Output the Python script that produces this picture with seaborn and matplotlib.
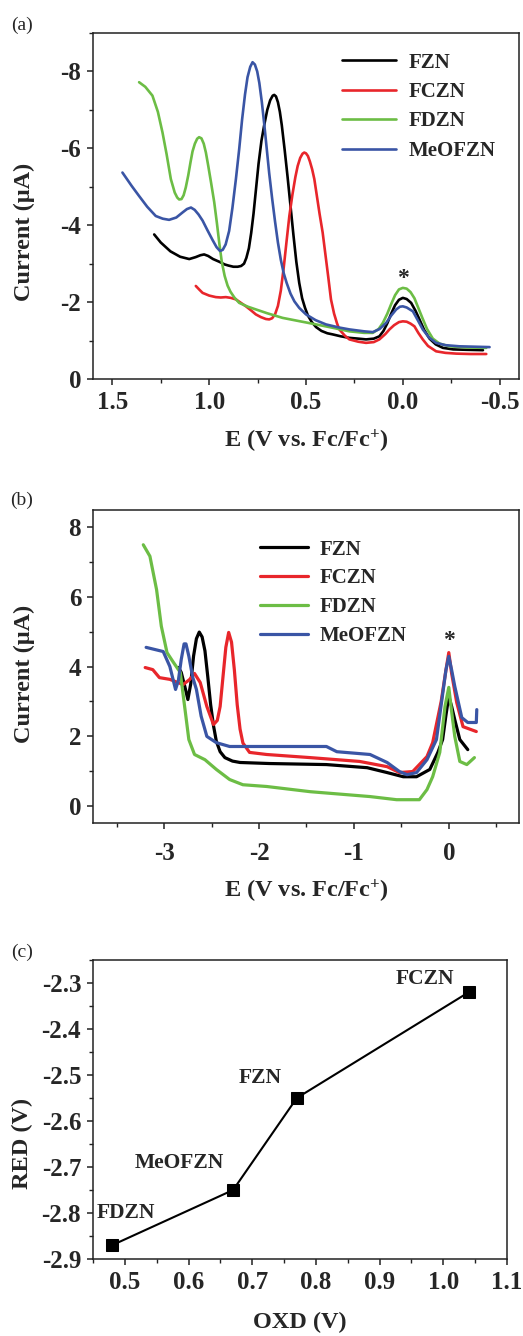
import numpy as np
import pandas as pd
import matplotlib
matplotlib.use("Agg")
import matplotlib.pyplot as plt
import seaborn as sns
from matplotlib.ticker import MultipleLocator, FormatStrFormatter

compounds = ["FZN", "FCZN", "FDZN", "MeOFZN"]
colors = ["#000000", "#e8262b", "#6cbd45", "#3a55a5"]

# ---------- panel (a): oxidation DPV ----------
a_fzn_E = [1.284, 1.25, 1.20, 1.15, 1.103, 1.07, 1.045, 1.026, 1.005, 0.98, 0.948, 0.92, 0.90, 0.875, 0.853, 0.835,
           0.82, 0.808, 0.795, 0.783, 0.771, 0.759, 0.745, 0.73, 0.716, 0.70, 0.685, 0.672, 0.664, 0.655, 0.645,
           0.635, 0.625, 0.61, 0.595, 0.58, 0.565, 0.55, 0.535, 0.52, 0.505, 0.49, 0.47, 0.448, 0.42, 0.39, 0.362,
           0.32, 0.276, 0.23, 0.19, 0.15, 0.121, 0.10, 0.08, 0.06, 0.04, 0.02, 0.0, -0.02, -0.043, -0.065, -0.086,
           -0.11, -0.138, -0.17, -0.207, -0.26, -0.328, -0.414]
a_fzn_I = [-3.76, -3.55, -3.32, -3.18, -3.12, -3.17, -3.22, -3.24, -3.2, -3.12, -3.05, -2.98, -2.95, -2.92, -2.92,
           -2.94, -3.0, -3.15, -3.4, -3.8, -4.3, -4.9, -5.6, -6.2, -6.6, -7.0, -7.25, -7.37, -7.39, -7.35, -7.2,
           -6.95, -6.6, -5.95, -5.25, -4.5, -3.75, -3.05, -2.5, -2.1, -1.85, -1.65, -1.48, -1.35, -1.25, -1.19,
           -1.16, -1.11, -1.07, -1.05, -1.03, -1.05, -1.11, -1.25, -1.45, -1.7, -1.92, -2.06, -2.11, -2.08, -1.98,
           -1.78, -1.55, -1.28, -1.05, -0.9, -0.81, -0.77, -0.76, -0.75]
a_fczn_E = [1.069, 1.05, 1.034, 1.0, 0.966, 0.94, 0.914, 0.888, 0.862, 0.836, 0.81, 0.785, 0.759, 0.733, 0.707,
            0.69, 0.675, 0.66, 0.645, 0.63, 0.615, 0.60, 0.586, 0.57, 0.555, 0.543, 0.53, 0.518, 0.509, 0.50, 0.49,
            0.48, 0.468, 0.457, 0.445, 0.43, 0.414, 0.40, 0.385, 0.371, 0.355, 0.34, 0.328, 0.30, 0.276, 0.23,
            0.19, 0.15, 0.121, 0.09, 0.069, 0.045, 0.02, 0.0, -0.02, -0.04, -0.06, -0.08, -0.103, -0.13, -0.172,
            -0.22, -0.276, -0.35, -0.431]
a_fczn_I = [-2.42, -2.32, -2.24, -2.17, -2.13, -2.12, -2.13, -2.11, -2.07, -1.98, -1.89, -1.79, -1.68, -1.61,
            -1.56, -1.55, -1.58, -1.68, -1.9, -2.3, -2.9, -3.6, -4.24, -4.8, -5.25, -5.54, -5.75, -5.86, -5.89,
            -5.87, -5.8, -5.66, -5.45, -5.2, -4.8, -4.3, -3.81, -3.25, -2.65, -2.07, -1.7, -1.45, -1.29, -1.13,
            -1.03, -0.97, -0.94, -0.96, -1.03, -1.17, -1.29, -1.4, -1.48, -1.50, -1.49, -1.44, -1.37, -1.2, -1.03,
            -0.86, -0.72, -0.68, -0.66, -0.65, -0.65]
a_fdzn_E = [1.362, 1.33, 1.293, 1.265, 1.241, 1.22, 1.198, 1.178, 1.165, 1.155, 1.143, 1.132, 1.121, 1.108, 1.096,
            1.086, 1.074, 1.062, 1.052, 1.04, 1.028, 1.017, 1.005, 0.99, 0.974, 0.96, 0.947, 0.935, 0.92, 0.905,
            0.89, 0.87, 0.845, 0.80, 0.759, 0.70, 0.621, 0.53, 0.448, 0.36, 0.276, 0.20, 0.155, 0.125, 0.103, 0.08,
            0.06, 0.04, 0.02, 0.0, -0.02, -0.04, -0.06, -0.08, -0.10, -0.125, -0.155, -0.19, -0.241, -0.33, -0.431]
a_fdzn_I = [-7.72, -7.6, -7.37, -6.95, -6.41, -5.85, -5.2, -4.85, -4.72, -4.67, -4.68, -4.78, -4.98, -5.3, -5.65,
            -5.92, -6.12, -6.25, -6.29, -6.26, -6.12, -5.89, -5.55, -5.1, -4.6, -4.05, -3.5, -3.05, -2.68, -2.43,
            -2.27, -2.12, -1.98, -1.88, -1.81, -1.71, -1.59, -1.50, -1.42, -1.33, -1.24, -1.2, -1.2, -1.3, -1.46,
            -1.7, -1.95, -2.18, -2.33, -2.37, -2.35, -2.26, -2.1, -1.85, -1.6, -1.3, -1.05, -0.92, -0.85, -0.82,
            -0.81]
a_meo_E = [1.448, 1.40, 1.362, 1.32, 1.276, 1.24, 1.207, 1.17, 1.138, 1.115, 1.094, 1.075, 1.055, 1.034, 1.01,
           0.983, 0.962, 0.944, 0.93, 0.915, 0.897, 0.88, 0.862, 0.845, 0.83, 0.815, 0.802, 0.788, 0.776, 0.764,
           0.752, 0.741, 0.728, 0.715, 0.702, 0.69, 0.675, 0.66, 0.645, 0.63, 0.615, 0.60, 0.58, 0.56, 0.535, 0.50,
           0.45, 0.397, 0.33, 0.276, 0.20, 0.155, 0.12, 0.086, 0.06, 0.034, 0.015, 0.0, -0.02, -0.052, -0.075,
           -0.103, -0.135, -0.172, -0.22, -0.293, -0.448]
a_meo_I = [-5.37, -5.02, -4.76, -4.48, -4.24, -4.17, -4.14, -4.2, -4.33, -4.42, -4.46, -4.4, -4.28, -4.12, -3.88,
           -3.62, -3.43, -3.33, -3.36, -3.5, -3.85, -4.45, -5.2, -5.98, -6.75, -7.4, -7.85, -8.12, -8.24, -8.18,
           -8.0, -7.7, -7.2, -6.6, -5.95, -5.35, -4.7, -4.1, -3.55, -3.1, -2.75, -2.5, -2.22, -2.02, -1.85, -1.68,
           -1.53, -1.42, -1.34, -1.29, -1.24, -1.22, -1.3, -1.46, -1.65, -1.81, -1.88, -1.89, -1.86, -1.76, -1.55,
           -1.29, -1.08, -0.94, -0.88, -0.85, -0.83]

# ---------- panel (b): reduction DPV ----------
b_fzn_E = [-2.85, -2.82, -2.78, -2.75, -2.72, -2.69, -2.66, -2.63, -2.60, -2.57, -2.54, -2.51, -2.48, -2.45, -2.41,
           -2.36, -2.28, -2.2, -1.89, -1.29, -0.86, -0.65, -0.48, -0.34, -0.2, -0.115, -0.065, -0.03, 0.0, 0.03,
           0.063, 0.116, 0.2]
b_fzn_I = [3.97, 3.83, 3.4, 3.05, 3.5, 4.3, 4.8, 4.99, 4.85, 4.45, 3.7, 2.9, 2.3, 1.85, 1.55,
           1.38, 1.28, 1.24, 1.21, 1.18, 1.09, 0.95, 0.83, 0.83, 1.04, 1.53, 1.9, 2.6, 3.14, 2.85,
           2.47, 1.9, 1.61]
b_fczn_E = [-3.2, -3.12, -3.05, -2.94, -2.80, -2.73, -2.68, -2.62, -2.55, -2.48, -2.44, -2.41, -2.38, -2.35, -2.32,
            -2.29, -2.26, -2.23, -2.2, -2.17, -2.1, -1.92, -1.46, -0.94, -0.65, -0.52, -0.38, -0.23, -0.17, -0.08,
            -0.03, 0.0, 0.03, 0.084, 0.15, 0.29]
b_fczn_I = [3.97, 3.91, 3.68, 3.63, 3.48, 3.63, 3.8, 3.54, 2.85, 2.33, 2.45, 2.85, 3.7, 4.55, 4.98,
            4.7, 3.9, 2.9, 2.2, 1.8, 1.53, 1.47, 1.38, 1.27, 1.12, 0.95, 0.98, 1.41, 1.81, 3.0,
            3.9, 4.4, 3.8, 2.96, 2.27, 2.13]
b_fdzn_E = [-3.22, -3.15, -3.08, -3.03, -2.97, -2.91, -2.83, -2.78, -2.74, -2.68, -2.57, -2.45, -2.31, -2.17, -1.92,
            -1.46, -0.83, -0.55, -0.31, -0.23, -0.17, -0.095, -0.04, 0.0, 0.03, 0.063, 0.116, 0.19, 0.27]
b_fdzn_I = [7.5, 7.17, 6.21, 5.16, 4.4, 4.15, 3.83, 2.76, 1.9, 1.47, 1.32, 1.04, 0.75, 0.60, 0.55,
            0.40, 0.26, 0.17, 0.17, 0.46, 0.83, 1.53, 2.85, 3.4, 2.7, 1.99, 1.27, 1.18, 1.38]
b_meo_E = [-3.19, -3.01, -2.94, -2.88, -2.85, -2.82, -2.79, -2.77, -2.74, -2.70, -2.66, -2.61, -2.55, -2.45, -2.31,
           -1.96, -1.29, -1.18, -0.83, -0.65, -0.52, -0.44, -0.34, -0.23, -0.13, -0.06, -0.03, 0.0, 0.03, 0.063,
           0.137, 0.2, 0.29, 0.295]
b_meo_I = [4.55, 4.43, 4.0, 3.34, 3.6, 4.2, 4.65, 4.65, 4.3, 3.7, 3.34, 2.57, 1.99, 1.81, 1.70,
           1.70, 1.70, 1.55, 1.47, 1.24, 0.98, 0.89, 0.95, 1.32, 1.9, 3.3, 3.9, 4.29, 3.9, 3.43,
           2.53, 2.39, 2.39, 2.76]

# ---------- panel (c): RED vs OXD ----------
c_names = ["FDZN", "MeOFZN", "FZN", "FCZN"]
c_oxd = [0.48, 0.67, 0.77, 1.04]
c_red = [-2.87, -2.75, -2.55, -2.32]
c_label_x = [0.502, 0.586, 0.712, 0.971]
c_label_y = [-2.80, -2.691, -2.507, -2.291]


def long_df(Es, Is):
    frames = []
    for name, E, I in zip(compounds, Es, Is):
        frames.append(pd.DataFrame({"E": E, "I": I, "compound": name}))
    return pd.concat(frames, ignore_index=True)


df_a = long_df([a_fzn_E, a_fczn_E, a_fdzn_E, a_meo_E], [a_fzn_I, a_fczn_I, a_fdzn_I, a_meo_I])
df_b = long_df([b_fzn_E, b_fczn_E, b_fdzn_E, b_meo_E], [b_fzn_I, b_fczn_I, b_fdzn_I, b_meo_I])
df_c = pd.DataFrame({"OXD": c_oxd, "RED": c_red, "name": c_names})

sns.set_theme(style="ticks")
plt.rcParams["font.family"] = ["Liberation Serif", "DejaVu Serif"]
plt.rcParams["font.weight"] = "bold"
plt.rcParams["axes.labelweight"] = "bold"
plt.rcParams["axes.unicode_minus"] = False
plt.rcParams["mathtext.fontset"] = "custom"
plt.rcParams["mathtext.rm"] = "Liberation Serif:bold"
plt.rcParams["mathtext.it"] = "Liberation Serif:bold"
plt.rcParams["mathtext.bf"] = "Liberation Serif:bold"

W, H = 523, 1336
fig = plt.figure(figsize=(W / 100, H / 100), dpi=100)


def axes_px(l, r, t, b):
    return fig.add_axes([l / W, 1 - b / H, (r - l) / W, (b - t) / H])


ax_a = axes_px(93, 519, 33, 379)
ax_b = axes_px(93, 519, 510, 823)
ax_c = axes_px(93, 507, 960, 1259)

palette = dict(zip(compounds, colors))
tick_fs = 18
label_fs = 17.5


def style_axes(ax):
    for s in ax.spines.values():
        s.set_linewidth(1.1)
        s.set_color("#222222")
    ax.tick_params(which="major", direction="out", length=4.5, width=1.1, labelsize=tick_fs, pad=4, color="#222222")
    ax.tick_params(which="minor", direction="out", length=2.8, width=1.0, color="#222222")
    ax.tick_params(top=False, right=False, which="both")
    for lab in ax.get_xticklabels() + ax.get_yticklabels():
        lab.set_fontweight("bold")


# Panel (a)
sns.lineplot(data=df_a, x="E", y="I", hue="compound", palette=palette, estimator=None, sort=False,
             units="compound", linewidth=1.9, legend=False, ax=ax_a)
ax_a.set_xlim(1.6, -0.6)
ax_a.set_ylim(0, -9)
ax_a.xaxis.set_major_locator(MultipleLocator(0.5))
ax_a.xaxis.set_minor_locator(MultipleLocator(0.25))
ax_a.yaxis.set_major_locator(MultipleLocator(2))
ax_a.yaxis.set_minor_locator(MultipleLocator(1))
ax_a.xaxis.set_major_formatter(FormatStrFormatter("%.1f"))
style_axes(ax_a)
ax_a.set_xlabel(r"E (V vs. Fc/Fc$^{+}$)", fontsize=label_fs, fontweight="bold")
ax_a.set_ylabel("Current (μA)", fontsize=label_fs, fontweight="bold")
ax_a.xaxis.set_label_coords(0.5, -0.142)
ax_a.yaxis.set_label_coords(-0.136, 0.425)
ax_a.text(0.0, -2.62, "*", ha="center", va="center", fontsize=17, fontweight="bold")
ha = [plt.Line2D([], [], color=c, lw=1.9) for c in colors]
ax_a.legend(ha, compounds, loc="upper left", bbox_to_anchor=(0.585, 0.943), frameon=False,
            prop={"size": 15, "weight": "bold"}, handlelength=2.6, handletextpad=0.6,
            labelspacing=0.45, borderpad=0, borderaxespad=0)

# Panel (b)
sns.lineplot(data=df_b, x="E", y="I", hue="compound", palette=palette, estimator=None, sort=False,
             units="compound", linewidth=2.3, legend=False, ax=ax_b)
ax_b.set_xlim(-3.75, 0.74)
ax_b.set_ylim(-0.5, 8.5)
ax_b.xaxis.set_major_locator(MultipleLocator(1))
ax_b.xaxis.set_minor_locator(MultipleLocator(0.5))
ax_b.yaxis.set_major_locator(MultipleLocator(2))
ax_b.yaxis.set_minor_locator(MultipleLocator(1))
style_axes(ax_b)
ax_b.tick_params(axis="x", pad=9)
ax_b.set_xlabel(r"E (V vs. Fc/Fc$^{+}$)", fontsize=label_fs, fontweight="bold")
ax_b.set_ylabel("Current (μA)", fontsize=label_fs, fontweight="bold")
ax_b.xaxis.set_label_coords(0.5, -0.176)
ax_b.yaxis.set_label_coords(-0.136, 0.476)
ax_b.text(0.0, 4.75, "*", ha="center", va="center", fontsize=17, fontweight="bold")
hb = [plt.Line2D([], [], color=c, lw=2.3) for c in colors]
ax_b.legend(hb, compounds, loc="upper left", bbox_to_anchor=(0.392, 0.905), frameon=False,
            prop={"size": 15, "weight": "bold"}, handlelength=2.3, handletextpad=0.55,
            labelspacing=0.42, borderpad=0, borderaxespad=0)

# Panel (c)
sns.lineplot(data=df_c, x="OXD", y="RED", color="black", marker="s", markersize=8.5, linewidth=1.5,
             markeredgecolor="black", estimator=None, sort=False, ax=ax_c)
for nm, lx, ly in zip(c_names, c_label_x, c_label_y):
    ax_c.text(lx, ly, nm, ha="center", va="center", fontsize=15.5, fontweight="bold")
ax_c.set_xlim(0.45, 1.1)
ax_c.set_ylim(-2.9, -2.25)
ax_c.xaxis.set_major_locator(MultipleLocator(0.1))
ax_c.xaxis.set_minor_locator(MultipleLocator(0.05))
ax_c.yaxis.set_major_locator(MultipleLocator(0.1))
ax_c.yaxis.set_minor_locator(MultipleLocator(0.05))
ax_c.xaxis.set_major_formatter(FormatStrFormatter("%.1f"))
ax_c.yaxis.set_major_formatter(FormatStrFormatter("%.1f"))
style_axes(ax_c)
ax_c.set_xlabel("OXD (V)", fontsize=label_fs, fontweight="bold")
ax_c.set_ylabel("RED (V)", fontsize=label_fs, fontweight="bold")
ax_c.xaxis.set_label_coords(0.5, -0.178)
ax_c.yaxis.set_label_coords(-0.145, 0.388)

for lbl, y in [("(a)", 25), ("(b)", 500), ("(c)", 952)]:
    fig.text(22 / W, 1 - y / H, lbl, ha="center", va="center", fontsize=14, fontweight="normal")

fig.savefig("out.png", dpi=100)
